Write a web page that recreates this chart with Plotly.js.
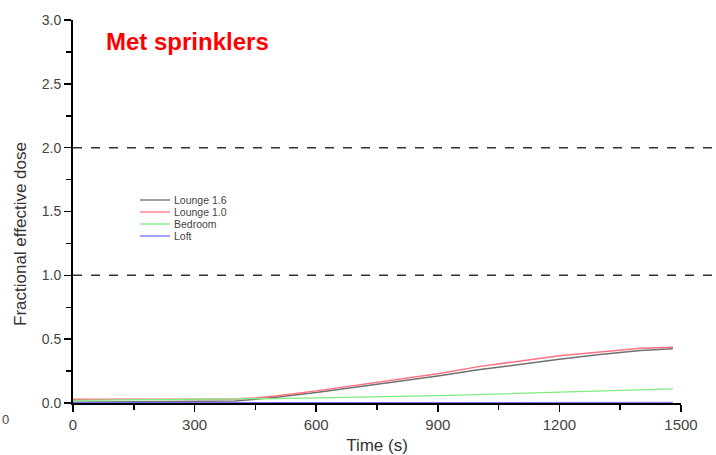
<!DOCTYPE html>
<html>
<head>
<meta charset="utf-8">
<script src="https://cdn.plot.ly/plotly-3.0.1.min.js"></script>
<style>html,body{margin:0;padding:0;background:#fff;}#chart{width:716px;height:455px;}</style>
</head>
<body>
<div id="chart"></div>
<script>
const time = [0, 100, 200, 300, 400, 450, 500, 600, 700, 800, 900, 1000, 1100, 1200, 1300, 1400, 1480];
const lounge16 = [0.005, 0.006, 0.008, 0.011, 0.015, 0.03, 0.045, 0.083, 0.125, 0.165, 0.212, 0.26, 0.303, 0.343, 0.38, 0.412, 0.425];
const lounge10 = [0.03, 0.03, 0.03, 0.031, 0.032, 0.04, 0.055, 0.095, 0.14, 0.18, 0.23, 0.285, 0.33, 0.37, 0.40, 0.428, 0.437];
const bedroom = [0.02, 0.022, 0.024, 0.027, 0.03, 0.032, 0.035, 0.04, 0.045, 0.051, 0.058, 0.066, 0.075, 0.085, 0.094, 0.103, 0.11];
const loft = [0.003, 0.003, 0.003, 0.003, 0.003, 0.003, 0.004, 0.004, 0.004, 0.005, 0.005, 0.005, 0.005, 0.005, 0.005, 0.005, 0.005];
const seriesNames = ["Lounge 1.6", "Lounge 1.0", "Bedroom", "Loft"];
const thresholds = [1.0, 2.0];
const xTicks = [0, 300, 600, 900, 1200, 1500];
const yTicks = [0.0, 0.5, 1.0, 1.5, 2.0, 2.5, 3.0];

const W = 716, H = 455, ML = 73, MR = 35, MT = 20, MB = 52;
const pw = W - ML - MR, ph = H - MT - MB;
const px = p => (p - ML) / pw;
const py = q => (H - MB - q) / ph;

const colors = ["#707070", "#ff7080", "#7ded7d", "#7070ff"];
const widths = [1.5, 1.5, 1.3, 1.0];
const ys = [lounge16, lounge10, bedroom, loft];
const traces = ys.map((y, i) => ({
  x: time, y: y, type: "scatter", mode: "lines", name: seriesNames[i],
  line: {color: colors[i], width: widths[i]}, showlegend: false
}));

const shapes = thresholds.map(v => ({
  type: "line", xref: "paper", yref: "y", x0: 0, x1: 1.06, y0: v, y1: v,
  line: {color: "#333", width: 1.5, dash: "dash"}
}));

const annotations = [
  {xref: "paper", yref: "paper", x: px(104), y: py(42), xanchor: "left", yanchor: "middle",
   text: "<b>Met sprinklers</b>", showarrow: false, font: {size: 24, color: "#ff0000", family: "Liberation Sans, Arial, sans-serif"}},
  {xref: "paper", yref: "paper", x: px(0), y: py(420), xanchor: "left", yanchor: "middle",
   text: "0", showarrow: false, font: {size: 13, color: "#444"}},
  {xref: "paper", yref: "paper", x: px(20), y: py(234), xanchor: "center", yanchor: "middle", textangle: -90,
   text: "Fractional effective dose", showarrow: false, font: {size: 17, color: "#333"}}
];

// compact legend built from the series names and colours
seriesNames.forEach((name, i) => {
  const q = 200 + i * 12;
  shapes.push({type: "line", xref: "paper", yref: "paper", x0: px(140), x1: px(170), y0: py(q), y1: py(q),
               line: {color: colors[i], width: 1.3}});
  annotations.push({xref: "paper", yref: "paper", x: px(172), y: py(q), xanchor: "left", yanchor: "middle",
                    text: name, showarrow: false, font: {size: 10.5, color: "#444"}});
});

const layout = {
  width: W, height: H,
  margin: {l: ML, r: MR, t: MT, b: MB},
  paper_bgcolor: "#fff", plot_bgcolor: "#fff",
  font: {family: "Liberation Sans, Arial, sans-serif", color: "#444"},
  showlegend: false,
  xaxis: {
    range: [0, 1500], tickvals: xTicks, ticktext: xTicks.map(String),
    showgrid: false, zeroline: false, showline: true, linecolor: "#000", linewidth: 2,
    ticks: "outside", ticklen: 7, tickwidth: 1.5, tickcolor: "#000",
    minor: {dtick: 150, tick0: 0, ticks: "outside", ticklen: 5, tickwidth: 1.5, tickcolor: "#000", showgrid: false},
    tickfont: {size: 15, color: "#444"},
    title: {text: "Time (s)", font: {size: 17, color: "#333"}, standoff: 8}
  },
  yaxis: {
    range: [0, 3.0], tickvals: yTicks, ticktext: yTicks.map(v => v.toFixed(1)),
    showgrid: false, zeroline: false, showline: true, linecolor: "#000", linewidth: 2,
    ticks: "outside", ticklen: 7, tickwidth: 1.5, tickcolor: "#000",
    minor: {dtick: 0.25, tick0: 0, ticks: "outside", ticklen: 5, tickwidth: 1.5, tickcolor: "#000", showgrid: false},
    tickfont: {size: 14, color: "#444"}
  },
  shapes: shapes,
  annotations: annotations
};

Plotly.newPlot("chart", traces, layout, {displayModeBar: false, staticPlot: true});
</script>
</body>
</html>
